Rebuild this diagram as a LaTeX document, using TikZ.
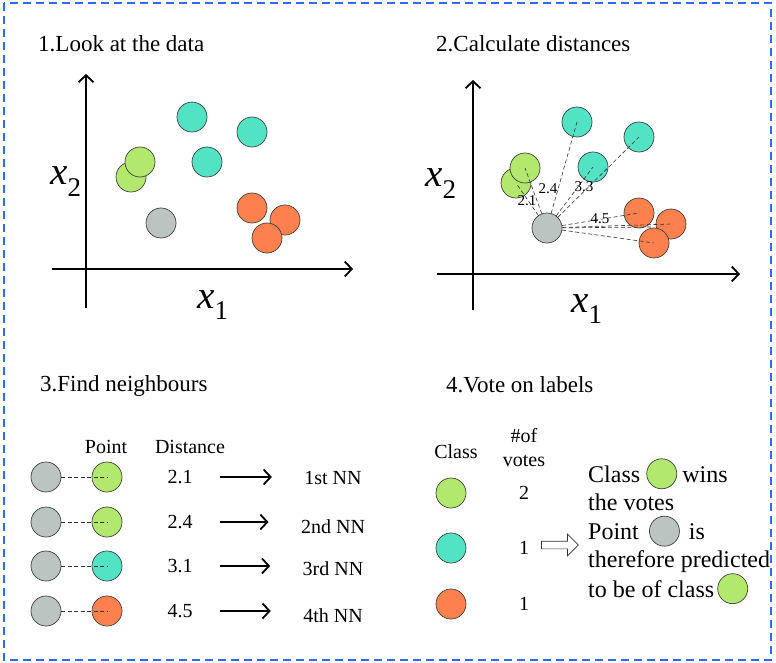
\documentclass[tikz,border=0pt]{standalone}
\usepackage{fontspec}
\setmainfont{Liberation Serif}
\usetikzlibrary{arrows.meta,positioning,shapes.arrows}
\definecolor{ptgreen}{HTML}{B3E86E}
\definecolor{ptteal}{HTML}{52E3C4}
\definecolor{ptorange}{HTML}{FF814F}
\definecolor{ptgray}{HTML}{BCC4C1}
\definecolor{frameblue}{HTML}{2E6BEF}
\newcommand\axvar[1]{\textit{x}\raisebox{-.3em}{\fontsize{27}{27}\selectfont #1}}

\begin{document}
\begin{tikzpicture}[x=1pt,y=-1pt,
    >={Straight Barb[length=7pt,width=15pt]},
    pt/.style = {circle,draw=black!75,line width=.7pt,minimum size=30pt,inner sep=0pt},
    gn/.style = {pt,fill=ptgreen},
    tq/.style = {pt,fill=ptteal},
    og/.style = {pt,fill=ptorange},
    gy/.style = {pt,fill=ptgray},
    title/.style = {anchor=base west,inner sep=0pt,font=\fontsize{23}{26}\selectfont},
    txt/.style = {anchor=base west,inner sep=0pt,font=\fontsize{24}{28}\selectfont},
    lab/.style = {font=\fontsize{20}{24}\selectfont},
    dlab/.style = {inner sep=1pt,font=\fontsize{15}{15}\selectfont},
    axl/.style = {anchor=base west,inner sep=0pt,font=\fontsize{39}{39}\selectfont},
    axis/.style = {->,line width=1.8pt},
    dist/.style = {dash pattern=on 4pt off 2.5pt,line width=.6pt,black!80},
    nnarrow/.style = {->,line width=1.8pt}
    ]
    \useasboundingbox (0,0) rectangle (776,663);
    \draw[frameblue,line width=1.2pt,dash pattern=on 8pt off 5pt] (4,3) rectangle (771,660);

    % 1. Look at the data
    \node[title] (a-title) at (38,52) {1.Look at the data};
    \draw[axis] (86,308) -- (86,74);
    \draw[axis] (52,269) -- (353,269);
    \node[axl] (a-x2) at (50,185) {\axvar{2}};
    \node[axl] (a-x1) at (197,308) {\axvar{1}};
    \foreach \name/\s/\x/\y in {t1/tq/192/117, t2/tq/252/132, t3/tq/207/162,
        g1/gn/131/177, g2/gn/140/162, q/gy/161/223,
        o1/og/252/208, o2/og/285/220, o3/og/267/238}
      \node[\s] (a-\name) at (\x,\y) {};

    % 2. Calculate distances
    \node[title] (b-title) at (436,52) {2.Calculate distances};
    \draw[axis] (473,310) -- (473,80);
    \draw[axis] (437,274) -- (740,274);
    \node[axl] (b-x2) at (425,187) {\axvar{2}};
    \node[axl] (b-x1) at (571,312) {\axvar{1}};
    \foreach \name/\s/\x/\y in {t1/tq/577/122, t2/tq/639/137, t3/tq/593/167,
        g1/gn/516/183, g2/gn/525/168, q/gy/547/228,
        o1/og/639/213, o2/og/671/224, o3/og/654/243}
      \node[\s] (b-\name) at (\x,\y) {};
    % Distance lines
    \foreach \name in {g1,g2,t1,t2,t3,o1,o2,o3}
      \draw[dist] (b-q) -- (b-\name.center);
    \draw[dist] (b-q) -- ([xshift=-18pt,yshift=-3pt]b-o2.center);
    \node[dlab] (b-d1) at (527,201) {2.1};
    \node[dlab] (b-d2) at (548,189) {2.4};
    \node[dlab] (b-d3) at (584,187) {3.3};
    \node[dlab] (b-d4) at (600,219) {4.5};

    % 3. Find neighbours
    \node[title] (c-title) at (40,391) {3.Find neighbours};
    \node[lab] (c-pt) at (106,447) {Point};
    \node[lab] (c-dst) at (190,447) {Distance};
    \foreach \i/\y/\c/\d/\n/\ny in {1/477/gn/2.1/1st/478, 2/522/gn/2.4/2nd/527,
        3/566/tq/3.1/3rd/569, 4/611/og/4.5/4th/616} {
      \node[gy] (c-q\i) at (46,\y) {};
      \node[\c] (c-p\i) at (107,\y) {};
      \draw[dist] (c-q\i) -- (c-p\i.center);
      \node[lab] (c-d\i) at (180,\y) {\d};
      \node[lab] (c-n\i) at (333,\ny) {\n\ NN};
      \draw[nnarrow,shorten <=24pt,shorten >=29pt] (c-d\i) -- (c-d\i -| c-n\i.west);
    }

    % 4. Vote on labels
    \node[title] (d-title) at (446,392) {4.Vote on labels};
    \node[lab] (d-cls) at (456,452) {Class};
    \node[lab,align=center] (d-vt) at (524,448) {\#of\\votes};
    \foreach \i/\c/\y/\v in {1/gn/493/2, 2/tq/548/1, 3/og/604/1} {
      \node[\c] (d-c\i) at (451,\y) {};
      \node[lab] (d-v\i) at (524,\y) {\v};
    }
    \node[single arrow,draw=black!80,fill=white,line width=.7pt,inner sep=3.5pt,
      single arrow head extend=7pt,minimum height=37pt] (d-arr) at (558,545) {};
    % Result text
    \node[txt] (d-l1) at (588,482) {Class};
    \node[gn,right=6pt of d-l1] (d-w1) {};
    \node[txt] (d-l1b) at ([xshift=5pt]d-w1.east |- d-l1.base) {wins};
    \node[txt] (d-l2) at (588,510) {the votes};
    \node[txt] (d-l3) at (588,539) {Point};
    \node[gy,right=10pt of d-l3] (d-w2) {};
    \node[txt] (d-l3b) at ([xshift=9pt]d-w2.east |- d-l3.base) {is};
    \node[txt] (d-l4) at (588,567) {therefore predicted};
    \node[txt] (d-l5) at (588,597) {to be of class};
    \node[gn,right=3pt of d-l5] (d-w3) {};
  \end{tikzpicture}
\end{document}
